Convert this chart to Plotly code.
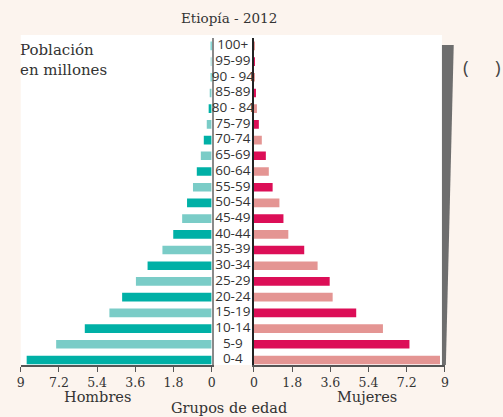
import plotly.graph_objects as go

W, H = 503, 417

groups = ["0-4", "5-9", "10-14", "15-19", "20-24", "25-29", "30-34", "35-39",
          "40-44", "45-49", "50-54", "55-59", "60-64", "65-69", "70-74",
          "75-79", "80 - 84", "85-89", "90 - 94", "95-99", "100+"]
hombres = [8.72, 7.33, 5.98, 4.82, 4.22, 3.57, 3.02, 2.32, 1.81, 1.39, 1.16,
           0.88, 0.70, 0.51, 0.37, 0.23, 0.14, 0.05, 0.04, 0.03, 0.02]
mujeres = [8.77, 7.33, 6.08, 4.82, 3.71, 3.57, 3.00, 2.37, 1.62, 1.39, 1.20,
           0.88, 0.70, 0.56, 0.37, 0.23, 0.14, 0.05, 0.04, 0.03, 0.01]
ticks = [0, 1.8, 3.6, 5.4, 7.2, 9]
tick_text = ["0", "1.8", "3.6", "5.4", "7.2", "9"]

BG = "#fcf4ee"
TEAL_D, TEAL_L = "#00b0a6", "#7accc7"
PINK_D, PINK_L = "#dc0e57", "#e49593"
SERIF = "DejaVu Serif"
SANS = "Open Sans"
TXT = "#333333"

male_colors = [TEAL_D if i % 2 == 0 else TEAL_L for i in range(len(groups))]
female_colors = [PINK_L if i % 2 == 0 else PINK_D for i in range(len(groups))]

def px(x):
    return x / W

def py(y):
    return 1 - y / H

fig = go.Figure()
fig.add_trace(go.Bar(y=groups, x=hombres, orientation="h", marker_color=male_colors,
                     marker_line_width=0, width=0.55, xaxis="x", yaxis="y",
                     showlegend=False))
fig.add_trace(go.Bar(y=groups, x=mujeres, orientation="h", marker_color=female_colors,
                     marker_line_width=0, width=0.55, xaxis="x2", yaxis="y2",
                     showlegend=False))
fig.add_trace(go.Scatter(y=groups, x=[0.5] * len(groups), mode="text", text=groups,
                         textfont=dict(family=SANS, size=13.5, color=TXT),
                         xaxis="x3", yaxis="y3", showlegend=False, hoverinfo="skip"))

ydom = [py(365), py(38)]
yr = [-0.32, 20.5]
common_y = dict(type="category", categoryorder="array", categoryarray=groups,
                range=yr, domain=ydom, showticklabels=False, showgrid=False,
                zeroline=False, ticks="", fixedrange=True)

xcommon = dict(tickvals=ticks, ticktext=tick_text, showline=True, linecolor="#555555",
               linewidth=1.5, ticks="outside", ticklen=5, tickcolor="#555555",
               showgrid=False, zeroline=False,
               tickfont=dict(family=SERIF, size=12.5, color=TXT))

def ann(text, x, y, size, xanchor="center", yanchor="middle", align="center", family=SERIF,
        color=TXT):
    return dict(text=text, xref="paper", yref="paper", x=px(x), y=py(y),
                xanchor=xanchor, yanchor=yanchor, align=align, showarrow=False,
                font=dict(family=family, size=size, color=color))

fig.update_layout(
    width=W, height=H,
    margin=dict(l=0, r=0, t=0, b=0),
    paper_bgcolor=BG, plot_bgcolor="rgba(0,0,0,0)",
    xaxis=dict(**xcommon, domain=[px(17), px(211)], range=[9, 0], anchor="y"),
    xaxis2=dict(**xcommon, domain=[px(254), px(448)], range=[0, 9], anchor="y2"),
    xaxis3=dict(domain=[px(211), px(254)], range=[0, 1], visible=False, anchor="y3"),
    yaxis=dict(**common_y, anchor="x", side="right", showline=True,
               linecolor="#8a8a8a", linewidth=2),
    yaxis2=dict(**common_y, anchor="x2", side="left", showline=True,
                linecolor="#222222", linewidth=1.5),
    yaxis3=dict(**common_y, anchor="x3", showline=False),
    shapes=[
        dict(type="rect", xref="paper", yref="paper", x0=px(17), x1=px(445),
             y0=py(365), y1=py(35), fillcolor="white", line_width=0, layer="below"),
        dict(type="path", xref="paper", yref="paper",
             path=f"M {px(445)} {py(45)} L {px(457)} {py(45)} L {px(449)} {py(365)} L {px(445)} {py(365)} Z",
             fillcolor="#6e6e6e", line_width=0, layer="above"),
    ],
    annotations=[
        ann("Etiopía - 2012", 229, 18, 13.5),
        ann("Población<br>en millones", 14, 60, 15, xanchor="left", align="left"),
        ann("Hombres", 95, 397, 14.5),
        ann("Mujeres", 369, 397, 14.5),
        ann("Grupos de edad", 229, 408, 14.5),
        ann("(", 469, 67, 19, family=SANS, color="#444444"),
        ann(")", 502, 67, 19, family=SANS, color="#444444"),
    ],
)

fig.write_html("out.html", config={"displayModeBar": False},
               post_script="document.body.style.margin='0';")
